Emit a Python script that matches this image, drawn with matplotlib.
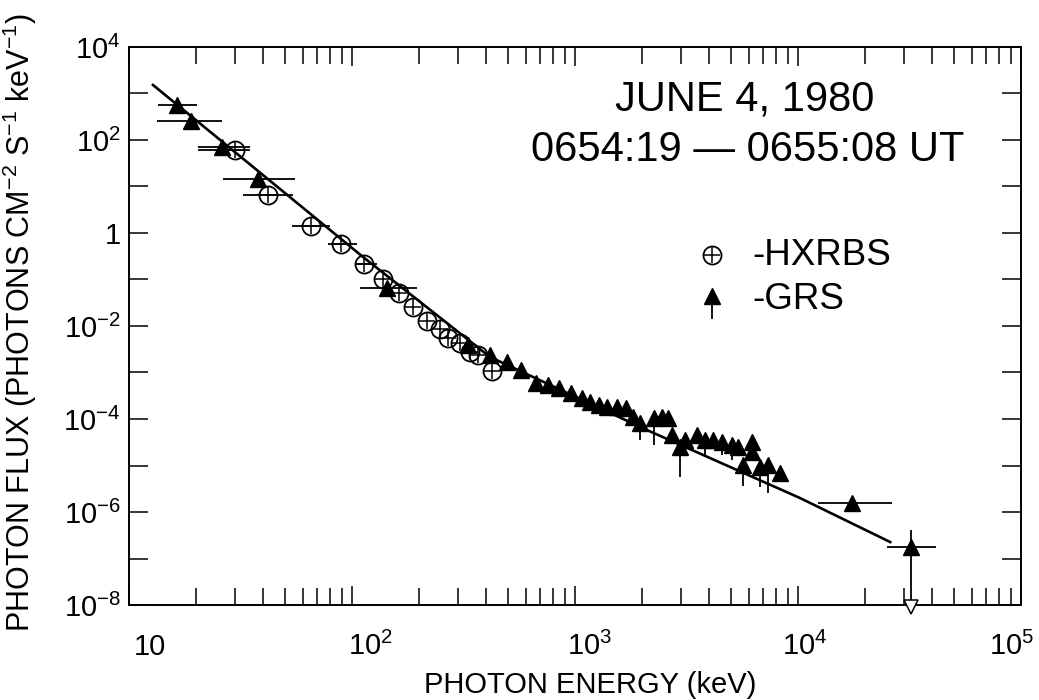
import matplotlib
matplotlib.use('Agg')
import matplotlib.pyplot as plt
import matplotlib.transforms as mtransforms
from matplotlib.ticker import LogLocator, NullFormatter
import numpy as np

plt.rcParams['font.family'] = ['Liberation Sans', 'DejaVu Sans']
plt.rcParams['mathtext.fontset'] = 'custom'
plt.rcParams['mathtext.rm'] = 'Liberation Sans'
plt.rcParams['mathtext.it'] = 'Liberation Sans'
plt.rcParams['mathtext.bf'] = 'Liberation Sans'
plt.rcParams['axes.unicode_minus'] = True

# HXRBS spectrum: energy (keV), flux, energy band edges
hxrbs_e = [29.9, 42, 65.5, 89, 113, 138, 163, 188, 217, 248, 269, 305, 338, 367, 425]
hxrbs_f = [61, 6.6, 1.42, 0.58, 0.215, 0.103, 0.051, 0.026, 0.0129, 0.0086,
           0.0055, 0.0043, 0.00276, 0.0024, 0.00108]
hxrbs_e_lo = [20.4, 32.4, 53.8, 78, 104, 138, 163, 188, 217, 248, 269, 305, 338, 367, 425]
hxrbs_e_hi = [34.9, 54.3, 79.6, 105, 129, 138, 163, 188, 217, 248, 269, 305, 338, 367, 425]

# GRS spectrum: energy (keV), flux, energy band edges, flux error range
grs_e = [16.4, 19, 26.1, 37.8, 144, 331, 416, 495, 573, 669, 757, 848, 959, 1075,
         1167, 1281, 1391, 1542, 1693, 1820, 1955, 2260, 2455, 2610, 2722, 2958,
         3113, 3524, 3828, 4159, 4561, 5058, 5382, 6221, 6221, 5664, 6761, 7330,
         8300, 17500, 32100]
grs_f = [566, 256, 70.8, 14.5, 0.066, 3.9e-3, 2.38e-3, 1.68e-3, 1.13e-3, 5.94e-4,
         5.38e-4, 4.64e-4, 3.62e-4, 2.83e-4, 2.32e-4, 2.0e-4, 1.81e-4, 1.81e-4,
         1.73e-4, 1.1e-4, 8.2e-5, 1.05e-4, 1.1e-4, 1.05e-4, 4.5e-5, 2.5e-5, 3.5e-5,
         4.5e-5, 3.5e-5, 3.5e-5, 3.2e-5, 2.76e-5, 2.5e-5, 3.2e-5, 1.95e-5, 1.03e-5,
         9.3e-6, 1.03e-5, 6.9e-6, 1.56e-6, 1.77e-7]
grs_e_lo = [13.5, 13.4, 20.4, 26.4, 109] + grs_e[5:39] + [12300, 25000]
grs_e_hi = [20.2, 26.1, 34.9, 55.5, 196] + grs_e[5:39] + [26400, 41600]
grs_f_lo = grs_f[:20] + [3.5e-5, 2.76e-5] + grs_f[22:25] + [5.7e-6] + grs_f[26:28] + \
    [1.68e-5, grs_f[29], 1.68e-5, 1.31e-5] + grs_f[32:35] + [3.6e-6, 3.45e-6, 2.56e-6] + \
    grs_f[38:40] + [9.1e-9]
grs_f_hi = grs_f[:40] + [4.1e-7]

# upper limit marker under the last GRS point
limit_e = [32100]
limit_f = [9.1e-9]

# fitted spectrum
fit_e = [12.8, 112, 416, 2100, 10200, 25900]
fit_f = [1525, 0.305, 2.15e-3, 5.8e-5, 2.0e-6, 2.26e-7]

ytick_vals = [10.0 ** k for k in range(-8, 5)]
ytick_text = ['$10^{-8}$', '', '$10^{-6}$', '', '$10^{-4}$', '', '$10^{-2}$', '',
              '1', '', '$10^{2}$', '', '$10^{4}$']
xtick_vals = [10, 100, 1000, 10000, 100000]
xtick_text = ['10', '$10^{2}$', '$10^{3}$', '$10^{4}$', '$10^{5}$']

fig = plt.figure(figsize=(10.39, 7.0), dpi=100)
ax = fig.add_axes([0.1242, 0.1357, 0.8585, 0.7972])
ax.set_xscale('log')
ax.set_yscale('log')
ax.set_xlim(10, 1e5)
ax.set_ylim(1e-8, 1e4)

ax.plot(fit_e, fit_f, color='k', lw=1.9, zorder=2)

hx = np.array(hxrbs_e)
ax.errorbar(hxrbs_e, hxrbs_f,
            xerr=[hx - np.array(hxrbs_e_lo), np.array(hxrbs_e_hi) - hx],
            fmt='none', ecolor='k', elinewidth=1.3, capsize=0, zorder=3)
gx = np.array(grs_e)
gy = np.array(grs_f)
ax.errorbar(grs_e, grs_f,
            xerr=[gx - np.array(grs_e_lo), np.array(grs_e_hi) - gx],
            yerr=[gy - np.array(grs_f_lo), np.array(grs_f_hi) - gy],
            fmt='none', ecolor='k', elinewidth=1.3, capsize=0, zorder=3)

ax.plot(grs_e, grs_f, ls='none', marker='^', ms=12, color='k', zorder=4)
ax.plot(hxrbs_e, hxrbs_f, ls='none', marker='o', ms=13, mfc='none', mec='k',
        mew=1.3, zorder=5)
ax.plot(hxrbs_e, hxrbs_f, ls='none', marker='+', ms=12, mec='k', mew=1.1, zorder=5)
ax.plot(limit_e, limit_f, ls='none', marker='v', ms=10, mfc='white', mec='k',
        mew=1.1, clip_on=False, zorder=6)

# axes, ticks
for s in ax.spines.values():
    s.set_linewidth(1.4)
ax.set_yticks(ytick_vals)
ax.set_yticklabels(ytick_text)
ax.yaxis.set_minor_locator(LogLocator(base=10, subs=[]))
ax.set_xticks(xtick_vals)
ax.set_xticklabels(xtick_text)
ax.xaxis.set_minor_locator(LogLocator(base=10, subs=np.arange(2, 10)))
ax.xaxis.set_minor_formatter(NullFormatter())
ax.tick_params(which='both', direction='in', top=True, right=True, width=1.1,
               labelsize=21)
ax.tick_params(axis='y', which='major', length=14, pad=6)
ax.tick_params(axis='x', which='major', length=14, pad=36)
ax.tick_params(axis='x', which='minor', length=12)

for lab, dx in zip(ax.get_xticklabels(), [21, 18, 15, 7, -9]):
    lab.set_va('baseline')
    lab.set_transform(lab.get_transform() +
                      mtransforms.ScaledTranslation(dx / 100, 0, fig.dpi_scale_trans))

ax.set_xlabel('PHOTON ENERGY (keV)', fontsize=21)
ax.xaxis.set_label_coords(0.517, -0.119)
ax.set_ylabel('PHOTON FLUX (PHOTONS CM$^{-2}$ S$^{-1}$ keV$^{-1}$)', fontsize=22)
ax.yaxis.set_label_coords(-0.101, 0.507)

# date / time annotation
ax.text(0.6906, 0.905, 'JUNE 4, 1980', transform=ax.transAxes, fontsize=30,
        ha='center', va='center')
ax.text(0.6940, 0.8154, '0654:19 \u2014 0655:08 UT', transform=ax.transAxes,
        fontsize=30, ha='center', va='center')

# hand-drawn key
ax.plot([0.6536], [0.6272], transform=ax.transAxes, marker='o', ms=13, mfc='none',
        mec='k', mew=1.3, ls='none')
ax.plot([0.6536], [0.6272], transform=ax.transAxes, marker='+', ms=12, mec='k',
        mew=1.1, ls='none')
ax.text(0.6984, 0.6272, '-HXRBS', transform=ax.transAxes, fontsize=26.5,
        ha='left', va='center')
ax.plot([0.6536, 0.6536], [0.548, 0.515], transform=ax.transAxes, color='k', lw=1.3)
ax.plot([0.6536], [0.553], transform=ax.transAxes, marker='^', ms=12, color='k',
        ls='none')
ax.text(0.6984, 0.5466, '-GRS', transform=ax.transAxes, fontsize=26.5,
        ha='left', va='center')

fig.savefig('out.png', dpi=100, facecolor='white')
